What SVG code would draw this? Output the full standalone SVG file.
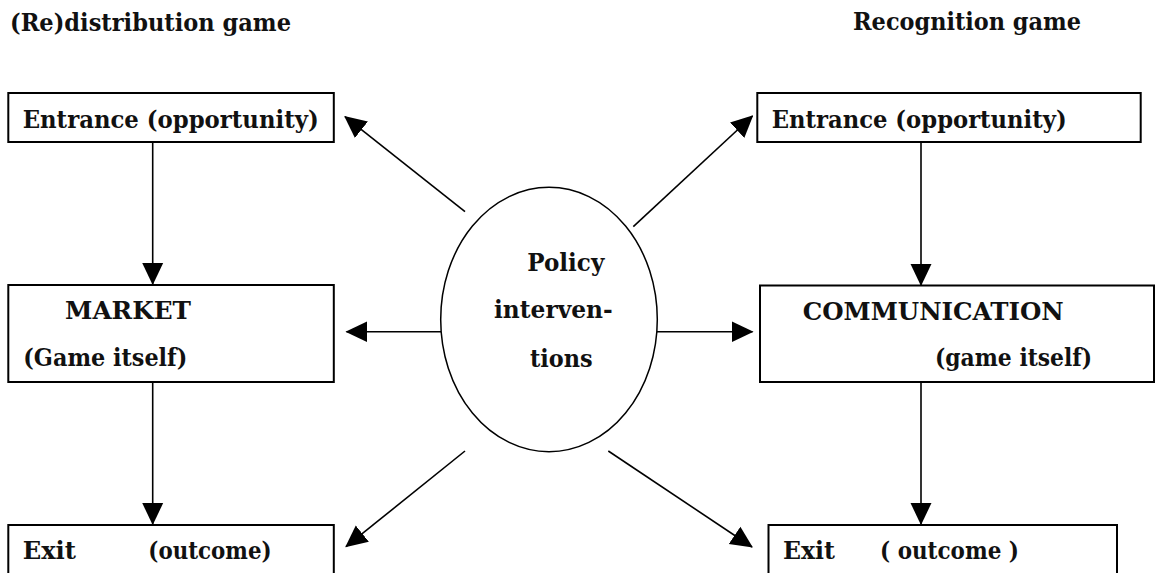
<svg xmlns="http://www.w3.org/2000/svg" width="1155" height="573" viewBox="0 0 1155 573">
  <style>
    .box { fill: #ffffff; stroke: #000000; stroke-width: 2; }
    .ell { fill: #ffffff; stroke: #000000; stroke-width: 1.5; }
    .conn { fill: none; stroke: #000000; stroke-width: 1.6; marker-end: url(#arrow); }
    text { font-family: "DejaVu Serif", "Liberation Serif", serif; font-weight: bold; font-size: 23.5px; fill: #111111; }
  </style>
  <defs>
    <marker id="arrow" markerUnits="userSpaceOnUse" markerWidth="22" markerHeight="22" viewBox="0 0 21 20" refX="20" refY="10" orient="auto">
      <path d="M0,0 L21,10 L0,20 Z" fill="#000000"/>
    </marker>
  </defs>
  <rect width="1155" height="573" fill="#ffffff"/>

  <g id="title-left">
    <text x="10" y="31" textLength="281" lengthAdjust="spacingAndGlyphs">(Re)distribution game</text>
  </g>
  <g id="title-right">
    <text x="853" y="30" textLength="228" lengthAdjust="spacingAndGlyphs">Recognition game</text>
  </g>

  <g id="connectors">
    <line class="conn" x1="152.7" y1="142" x2="152.7" y2="284"/>
    <line class="conn" x1="152.7" y1="382" x2="152.7" y2="524"/>
    <line class="conn" x1="921" y1="142" x2="921" y2="285"/>
    <line class="conn" x1="921" y1="382" x2="921" y2="524"/>
    <line class="conn" x1="441" y1="331.7" x2="346.5" y2="331.7"/>
    <line class="conn" x1="657" y1="331.7" x2="752.5" y2="331.7"/>
    <line class="conn" x1="465" y1="211.7" x2="345" y2="116.7"/>
    <line class="conn" x1="633.3" y1="226.7" x2="752.5" y2="116"/>
    <line class="conn" x1="465" y1="451" x2="346" y2="546.7"/>
    <line class="conn" x1="608.3" y1="451" x2="752" y2="547"/>
  </g>

  <g id="entrance-left">
    <rect class="box" x="8.3" y="93" width="325.5" height="49"/>
    <text x="22.7" y="128" textLength="296" lengthAdjust="spacingAndGlyphs">Entrance (opportunity)</text>
  </g>
  <g id="market">
    <rect class="box" x="8.3" y="285" width="325.5" height="97"/>
    <text x="65" y="319" textLength="126" lengthAdjust="spacingAndGlyphs">MARKET</text>
    <text x="23.3" y="365.7" textLength="164" lengthAdjust="spacingAndGlyphs">(Game itself)</text>
  </g>
  <g id="exit-left">
    <rect class="box" x="8.3" y="525" width="325.5" height="60"/>
    <text x="22.7" y="559.3"><tspan textLength="53.3" lengthAdjust="spacingAndGlyphs">Exit</tspan> <tspan x="148.3" textLength="123.4" lengthAdjust="spacingAndGlyphs">(outcome)</tspan></text>
  </g>

  <g id="policy">
    <ellipse class="ell" cx="549" cy="319.5" rx="108.3" ry="132.2"/>
    <text x="527.3" y="270.7" textLength="77" lengthAdjust="spacingAndGlyphs">Policy</text>
    <text x="494" y="318.3" textLength="118.7" lengthAdjust="spacingAndGlyphs">interven-</text>
    <text x="530" y="366.7" textLength="62.7" lengthAdjust="spacingAndGlyphs">tions</text>
  </g>

  <g id="entrance-right">
    <rect class="box" x="757.3" y="93" width="383.4" height="49"/>
    <text x="771.7" y="128" textLength="295" lengthAdjust="spacingAndGlyphs">Entrance (opportunity)</text>
  </g>
  <g id="communication">
    <rect class="box" x="760" y="285.5" width="394" height="96.5"/>
    <text x="802.7" y="320" textLength="261" lengthAdjust="spacingAndGlyphs">COMMUNICATION</text>
    <text x="935" y="365.7" textLength="157" lengthAdjust="spacingAndGlyphs">(game itself)</text>
  </g>
  <g id="exit-right">
    <rect class="box" x="768.5" y="525" width="348.5" height="60"/>
    <text x="783" y="559.3"><tspan textLength="52" lengthAdjust="spacingAndGlyphs">Exit</tspan> <tspan x="880" textLength="139" lengthAdjust="spacingAndGlyphs">( outcome )</tspan></text>
  </g>
</svg>
